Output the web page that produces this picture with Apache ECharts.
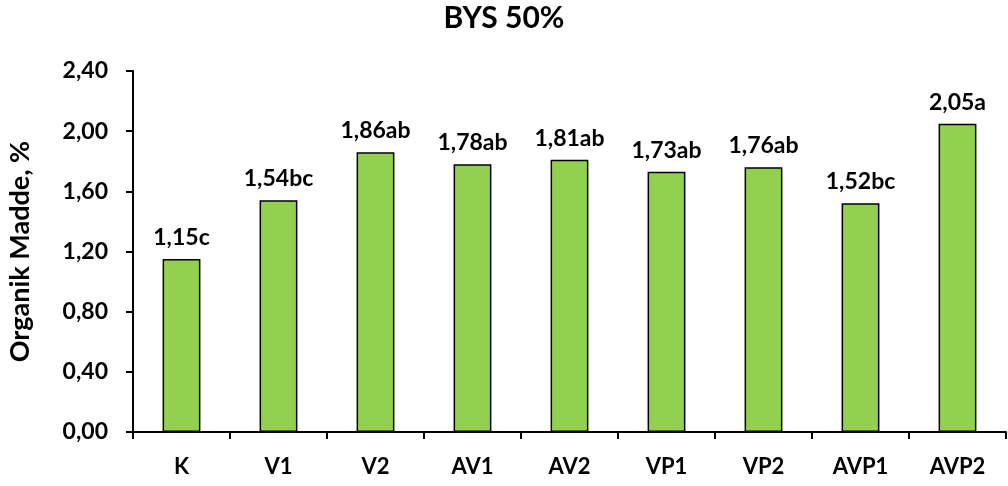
<!DOCTYPE html>
<html><head><meta charset="utf-8">
<script src="https://cdn.jsdelivr.net/npm/echarts@6/dist/echarts.min.js"></script>
<style>html,body{margin:0;padding:0;background:#fff}#c{width:1008px;height:486px}</style>
</head><body><div id="c"></div>
<script>
var categories = ['K','V1','V2','AV1','AV2','VP1','VP2','AVP1','AVP2'];
var values = [1.15,1.54,1.86,1.78,1.81,1.73,1.76,1.52,2.05];
var letters = ['c','bc','ab','ab','ab','ab','ab','bc','a'];
var yTicks = {min:0, max:2.4, interval:0.4};
var F = 'Lato, "Open Sans", sans-serif';
var chart = echarts.init(document.getElementById('c'));
chart.setOption({
  animation:false,
  title:{text:'BYS 50%', left:'center', top:-2, textStyle:{fontFamily:F, fontWeight:'bold', fontSize:30, color:'#000'}},
  grid:{left:133, right:2, top:71, bottom:54, containLabel:false, outerBoundsMode:'none'},
  xAxis:{type:'category', data:categories,
    axisLine:{lineStyle:{color:'#000', width:2}},
    axisTick:{show:true, length:7, lineStyle:{color:'#000', width:2}},
    axisLabel:{fontFamily:F, fontWeight:'bold', fontSize:22, color:'#000', margin:24}},
  yAxis:{type:'value', min:yTicks.min, max:yTicks.max, interval:yTicks.interval,
    name:'Organik Madde, %', nameLocation:'middle', nameGap:99, nameRotate:90,
    nameTextStyle:{fontFamily:F, fontWeight:'bold', fontSize:27, color:'#000'},
    splitLine:{show:false},
    axisLine:{show:true, lineStyle:{color:'#000', width:2}},
    axisTick:{show:true, length:7, lineStyle:{color:'#000', width:2}},
    axisLabel:{fontFamily:F, fontWeight:'bold', fontSize:23, color:'#000', margin:25,
      formatter:function(v){return v.toFixed(2).replace('.',',');}}},
  series:[{type:'bar', data:values, barWidth:'39%',
    itemStyle:{color:'#92D050', borderColor:'#000', borderWidth:1.5},
    label:{show:true, position:'top', distance:10, fontFamily:F, fontWeight:'bold', fontSize:23, color:'#000',
      formatter:function(p){return p.value.toFixed(2).replace('.',',')+letters[p.dataIndex];}}}]
});
</script></body></html>
